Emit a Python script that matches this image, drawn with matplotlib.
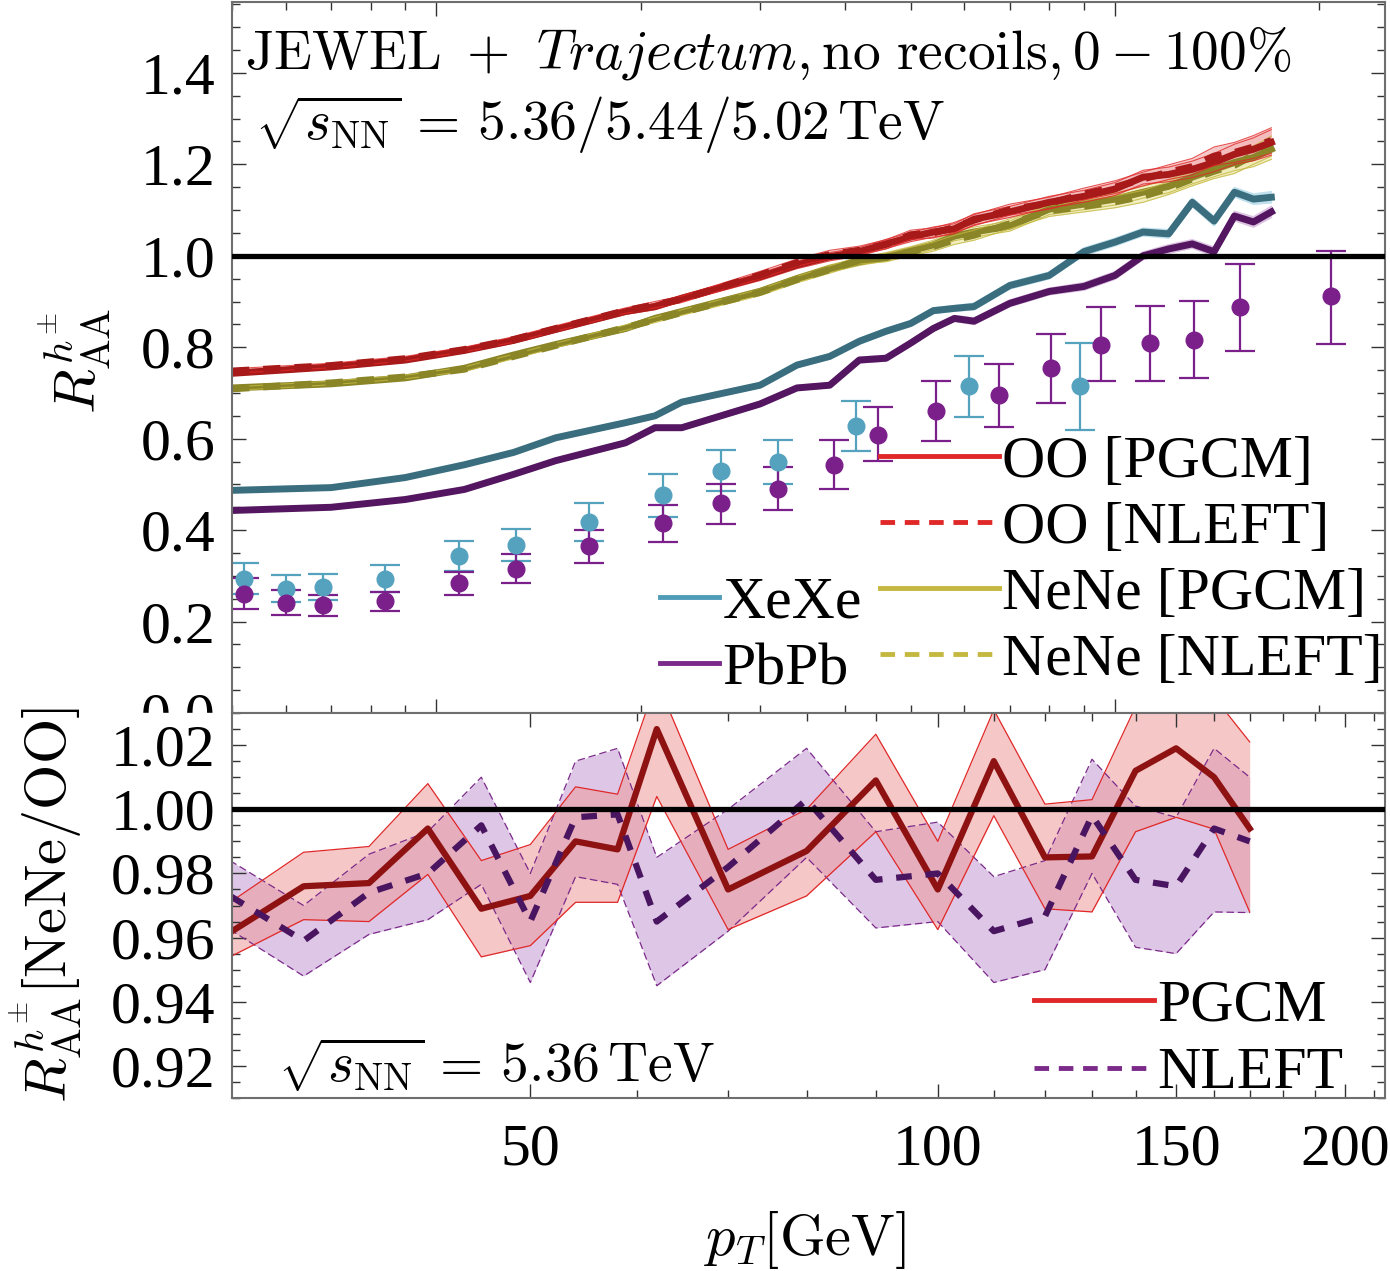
import numpy as np
import matplotlib
matplotlib.use('Agg')
import matplotlib.pyplot as plt
from matplotlib.lines import Line2D
from matplotlib.patches import Rectangle
from matplotlib.ticker import FixedLocator, NullFormatter, LogLocator, MultipleLocator, FormatStrFormatter

plt.rcParams['font.family'] = ['Liberation Serif', 'DejaVu Serif']
plt.rcParams['mathtext.fontset'] = 'cm'

# ---- top panel: JEWEL curves ----
pt_th = [5, 7, 9, 11, 13, 15, 19, 21, 23, 30, 34, 38, 42, 46, 50, 54, 58, 62, 70,
         80, 90, 100, 110, 120, 130, 140, 150, 160, 170]
oo_pgcm = [0.743, 0.757, 0.772, 0.793, 0.815, 0.839, 0.878, 0.889, 0.907, 0.954, 0.980, 0.998, 1.009, 1.026,
           1.041, 1.052, 1.059, 1.080, 1.096, 1.117, 1.130, 1.146, 1.172, 1.178, 1.189, 1.204, 1.222, 1.233, 1.248]
oo_nleft = [0.748, 0.760, 0.775, 0.795, 0.817, 0.841, 0.880, 0.893, 0.905, 0.958, 0.985, 1.003, 1.012, 1.025,
            1.046, 1.050, 1.062, 1.078, 1.101, 1.115, 1.135, 1.150, 1.168, 1.183, 1.195, 1.218, 1.226, 1.238, 1.252]
nene_pgcm = [0.711, 0.720, 0.733, 0.754, 0.783, 0.806, 0.841, 0.863, 0.878, 0.922, 0.950, 0.972, 0.987, 0.998,
             1.011, 1.024, 1.043, 1.052, 1.065, 1.102, 1.113, 1.124, 1.139, 1.152, 1.172, 1.189, 1.204, 1.215, 1.233]
nene_nleft = [0.709, 0.722, 0.735, 0.752, 0.780, 0.804, 0.843, 0.860, 0.876, 0.920, 0.948, 0.970, 0.990, 0.996,
              1.009, 1.020, 1.035, 1.045, 1.070, 1.098, 1.108, 1.118, 1.130, 1.148, 1.168, 1.185, 1.198, 1.220, 1.240]
xexe_th = [0.487, 0.493, 0.515, 0.543, 0.570, 0.602, 0.635, 0.650, 0.680, 0.717, 0.761, 0.780, 0.813, 0.835,
           0.852, 0.880, 0.885, 0.889, 0.935, 0.957, 1.009, 1.030, 1.052, 1.048, 1.117, 1.076, 1.139, 1.124, 1.128]
pbpb_th = [0.443, 0.450, 0.467, 0.489, 0.522, 0.552, 0.591, 0.624, 0.624, 0.676, 0.711, 0.717, 0.772, 0.776,
           0.809, 0.841, 0.863, 0.857, 0.896, 0.922, 0.933, 0.957, 1.000, 1.015, 1.026, 1.009, 1.087, 1.074, 1.096]
# half widths of the uncertainty bands
oo_band = [0.005, 0.005, 0.005, 0.005, 0.006, 0.006, 0.006, 0.007, 0.007, 0.008, 0.008, 0.009, 0.009, 0.010,
           0.010, 0.011, 0.011, 0.012, 0.012, 0.013, 0.013, 0.014, 0.015, 0.016, 0.018, 0.020, 0.022, 0.025, 0.028]
nene_band = [0.004, 0.004, 0.004, 0.005, 0.005, 0.005, 0.006, 0.006, 0.006, 0.007, 0.007, 0.008, 0.008, 0.009,
             0.009, 0.010, 0.010, 0.011, 0.011, 0.012, 0.012, 0.013, 0.013, 0.014, 0.015, 0.016, 0.018, 0.020, 0.022]
aa_band = [0.004, 0.004, 0.004, 0.004, 0.004, 0.004, 0.005, 0.005, 0.005, 0.005, 0.005, 0.005, 0.006, 0.006,
           0.006, 0.006, 0.006, 0.007, 0.007, 0.007, 0.008, 0.008, 0.008, 0.009, 0.009, 0.010, 0.010, 0.011, 0.012]

# ---- top panel: data points ----
pt_xe = [5.2, 6.0, 6.8, 8.4, 10.8, 13.1, 16.8, 21.6, 26.3, 31.9, 41.6, 61.0, 88.8]
xe_val = [0.293, 0.272, 0.276, 0.293, 0.343, 0.367, 0.417, 0.476, 0.530, 0.550, 0.628, 0.715, 0.715]
xe_hi = [0.328, 0.302, 0.304, 0.324, 0.376, 0.402, 0.459, 0.522, 0.576, 0.598, 0.683, 0.780, 0.809]
xe_lo = [0.261, 0.243, 0.248, 0.265, 0.311, 0.333, 0.376, 0.428, 0.485, 0.502, 0.574, 0.648, 0.620]

pt_pb = [5.2, 6.0, 6.8, 8.4, 10.8, 13.1, 16.8, 21.6, 26.3, 31.9, 38.5, 44.8, 54.5, 67.5, 80.5, 95.3,
         112.5, 130.6, 153, 208]
pb_val = [0.261, 0.241, 0.237, 0.246, 0.285, 0.315, 0.365, 0.415, 0.459, 0.491, 0.543, 0.609, 0.661,
          0.696, 0.754, 0.804, 0.809, 0.815, 0.887, 0.911]
pb_hi = [0.296, 0.270, 0.259, 0.265, 0.309, 0.348, 0.400, 0.454, 0.502, 0.539, 0.598, 0.670, 0.726,
         0.763, 0.828, 0.887, 0.891, 0.902, 0.983, 1.011]
pb_lo = [0.228, 0.215, 0.213, 0.224, 0.259, 0.285, 0.328, 0.374, 0.413, 0.443, 0.489, 0.552, 0.596,
         0.626, 0.678, 0.726, 0.726, 0.733, 0.791, 0.807]

# ---- bottom panel: NeNe/OO ratio ----
pt_r = [30, 34, 38, 42, 46, 50, 54, 58, 62, 70, 80, 90, 100, 110, 120, 130, 140, 150, 160, 170]
r_pgcm = [0.9616, 0.976, 0.977, 0.994, 0.969, 0.973, 0.990, 0.9875, 1.025, 0.975, 0.987, 1.009, 0.975,
          1.015, 0.985, 0.9853, 1.012, 1.019, 1.010, 0.994]
r_pgcm_hi = [0.971, 0.9866, 0.9884, 1.008, 0.984, 0.989, 1.007, 1.0047, 1.040, 0.9875, 1.000, 1.0234, 0.990,
             1.031, 1.0016, 1.003, 1.032, 1.040, 1.035, 1.021]
r_pgcm_lo = [0.954, 0.9656, 0.965, 0.9797, 0.954, 0.9575, 0.971, 0.971, 1.004, 0.9625, 0.973, 0.993, 0.9625,
             0.998, 0.969, 0.968, 0.993, 0.9975, 0.9938, 0.968]
r_nleft = [0.973, 0.959, 0.974, 0.980, 0.995, 0.965, 0.9975, 0.9984, 0.965, 0.982, 1.003, 0.978, 0.980,
           0.962, 0.9666, 0.998, 0.978, 0.976, 0.994, 0.990]
r_nleft_hi = [0.984, 0.970, 0.986, 0.993, 1.010, 0.980, 1.015, 1.019, 0.985, 1.000, 1.019, 0.993, 0.996,
              0.979, 0.984, 1.0156, 1.001, 0.9975, 1.019, 1.010]
r_nleft_lo = [0.9625, 0.948, 0.961, 0.9656, 0.9766, 0.946, 0.979, 0.9766, 0.945, 0.962, 0.985, 0.963, 0.965,
              0.946, 0.950, 0.980, 0.957, 0.955, 0.968, 0.9678]

# colores
c_oo, c_oo_leg, c_oo_band = '#a81a1a', '#e02828', '#f4b8b8'
c_ne, c_ne_leg, c_ne_band = '#8a8628', '#c4b840', '#efebb4'
c_xe, c_xe_leg, c_xe_band, c_xe_pt = '#3a6e7f', '#4f9bb8', '#bfe0ec', '#55a2bf'
c_pb, c_pb_leg, c_pb_band, c_pb_pt = '#541660', '#7b2a8a', '#dcc4e2', '#7b1f8b'
spine_c = '#6e6e6e'
fs = 43

fig = plt.figure(figsize=(13.9, 12.71), dpi=100)
ax1 = fig.add_axes([0.1669, 0.4390, 0.8295, 0.5594])
ax2 = fig.add_axes([0.1669, 0.1361, 0.8295, 0.3029])
ax2.set_zorder(1)
# el panel de abajo tapa la etiqueta 0.0 del de arriba
fig.add_artist(Rectangle((0, 0), 1, 0.4390, transform=fig.transFigure, color='white', zorder=0.5))

# ---- top panel ----
x = np.array(pt_th)
for vals, band, col, bcol in [(xexe_th, aa_band, c_xe, c_xe_band), (pbpb_th, aa_band, c_pb, c_pb_band)]:
    v = np.array(vals)
    b = np.array(band)
    ax1.fill_between(x, v - b, v + b, color=bcol, lw=0)
    ax1.plot(x, v + b, color=bcol, lw=1.2)
    ax1.plot(x, v - b, color=bcol, lw=1.2)
    ax1.plot(x, v, color=col, lw=5)

for vals, band, col, bcol, ls in [(nene_pgcm, nene_band, c_ne, c_ne_band, '-'),
                                  (nene_nleft, nene_band, c_ne, c_ne_band, '--'),
                                  (oo_pgcm, oo_band, c_oo, c_oo_band, '-'),
                                  (oo_nleft, oo_band, c_oo, c_oo_band, '--')]:
    v = np.array(vals)
    b = np.array(band)
    ax1.fill_between(x, v - b, v + b, color=bcol, alpha=0.75, lw=0)
    ax1.plot(x, v + b, color=c_oo_leg if col == c_oo else c_ne_leg, lw=0.8, alpha=0.8)
    ax1.plot(x, v - b, color=c_oo_leg if col == c_oo else c_ne_leg, lw=0.8, alpha=0.8)
    if ls == '-':
        ax1.plot(x, v, color=col, lw=5)
    else:
        ax1.plot(x, v, color=col, lw=5, dashes=(2.5, 2.0))

ax1.errorbar(pt_xe, xe_val, yerr=[np.array(xe_val) - np.array(xe_lo), np.array(xe_hi) - np.array(xe_val)],
             fmt='o', color=c_xe_pt, ms=12, elinewidth=1.6, capsize=11, capthick=1.6)
ax1.errorbar(pt_pb, pb_val, yerr=[np.array(pb_val) - np.array(pb_lo), np.array(pb_hi) - np.array(pb_val)],
             fmt='o', color=c_pb_pt, ms=12, elinewidth=1.6, capsize=11, capthick=1.6)

ax1.axhline(1.0, color='black', lw=3.8, zorder=5)
ax1.set_xscale('log')
ax1.set_xlim(5.0, 250)
ax1.set_ylim(0.0, 1.555)
ax1.xaxis.set_major_locator(LogLocator(base=10))
ax1.xaxis.set_minor_locator(LogLocator(base=10, subs=np.arange(2, 10)))
ax1.xaxis.set_major_formatter(NullFormatter())
ax1.xaxis.set_minor_formatter(NullFormatter())
ax1.yaxis.set_major_locator(MultipleLocator(0.2))
ax1.yaxis.set_minor_locator(MultipleLocator(0.05))
ax1.yaxis.set_major_formatter(FormatStrFormatter('%.1f'))

ax1.text(0.011, 0.928, r'$\mathrm{JEWEL}\ +\ \mathit{Trajectum},\mathrm{no\ recoils},0-100\%$',
         transform=ax1.transAxes, fontsize=40, va='center', ha='left')
ax1.text(0.02, 0.827, r'$\sqrt{s_{\rm NN}}\,=\,5.36/5.44/5.02\,\mathrm{TeV}$',
         transform=ax1.transAxes, fontsize=40, va='center', ha='left')

ax1.set_ylabel(r'$R_{\rm AA}^{h^{\pm}}$', fontsize=42, va='center')
ax1.yaxis.set_label_coords(-0.136, 0.496)

h1 = [Line2D([], [], color=c_oo_leg, lw=3.5),
      Line2D([], [], color=c_oo_leg, lw=3.5, dashes=(3, 2)),
      Line2D([], [], color=c_ne_leg, lw=3.5),
      Line2D([], [], color=c_ne_leg, lw=3.5, dashes=(3, 2))]
leg1 = ax1.legend(h1, ['OO [PGCM]', 'OO [NLEFT]', 'NeNe [PGCM]', 'NeNe [NLEFT]'],
                  loc='upper left', bbox_to_anchor=(0.562, 0.391), frameon=False, fontsize=fs,
                  handlelength=2.0, handletextpad=0.05, labelspacing=0.19, borderpad=0, borderaxespad=0)
ax1.add_artist(leg1)
h2 = [Line2D([], [], color=c_xe_leg, lw=3.5), Line2D([], [], color=c_pb_leg, lw=3.5)]
ax1.legend(h2, ['XeXe', 'PbPb'], loc='upper left', bbox_to_anchor=(0.371, 0.193), frameon=False,
           fontsize=fs, handlelength=1.0, handletextpad=0.05, labelspacing=0.2, borderpad=0, borderaxespad=0)

# ---- bottom panel ----
xr = np.array(pt_r)
ax2.fill_between(xr, r_nleft_lo, r_nleft_hi, color='#c9a3d6', alpha=0.6, lw=0)
ax2.plot(xr, r_nleft_hi, color='#7b2a8a', lw=0.9, dashes=(6, 3))
ax2.plot(xr, r_nleft_lo, color='#7b2a8a', lw=0.9, dashes=(6, 3))
ax2.fill_between(xr, r_pgcm_lo, r_pgcm_hi, color='#ee9a9a', alpha=0.55, lw=0)
ax2.plot(xr, r_pgcm_hi, color='#e02828', lw=0.9)
ax2.plot(xr, r_pgcm_lo, color='#e02828', lw=0.9)
ax2.plot(xr, r_pgcm, color='#8e1212', lw=4.5)
ax2.plot(xr, r_nleft, color='#4a1560', lw=4.5, dashes=(2.5, 2.2))
ax2.axhline(1.0, color='black', lw=3.8, zorder=5)

ax2.set_xscale('log')
ax2.set_xlim(30.1, 214)
ax2.set_ylim(0.91, 1.03)
ax2.xaxis.set_major_locator(FixedLocator([50, 100, 150, 200]))
ax2.xaxis.set_minor_locator(FixedLocator([60, 70, 80, 90, 110, 120, 130, 140, 160, 170, 180, 190, 210]))
ax2.xaxis.set_major_formatter(FormatStrFormatter('%d'))
ax2.xaxis.set_minor_formatter(NullFormatter())
ax2.yaxis.set_major_locator(MultipleLocator(0.02))
ax2.yaxis.set_minor_locator(MultipleLocator(0.005))
ax2.yaxis.set_major_formatter(FormatStrFormatter('%.2f'))

ax2.text(0.04, 0.086, r'$\sqrt{s_{\rm NN}}\,=\,5.36\,\mathrm{TeV}$', transform=ax2.transAxes,
         fontsize=40, va='center', ha='left')
h3 = [Line2D([], [], color='#e02828', lw=3.5), Line2D([], [], color='#7b2a8a', lw=3.5, dashes=(3, 2))]
ax2.legend(h3, ['PGCM', 'NLEFT'], loc='upper left', bbox_to_anchor=(0.696, 0.31), frameon=False,
           fontsize=fs, handlelength=2.0, handletextpad=0.05, labelspacing=0.22, borderpad=0, borderaxespad=0)

ax2.set_ylabel(r'$R_{\rm AA}^{h^{\pm}}[\mathrm{NeNe/OO}]$', fontsize=42, va='center')
ax2.yaxis.set_label_coords(-0.162, 0.5)
ax2.set_xlabel(r'$p_T[\mathrm{GeV}]$', fontsize=42, va='center')
ax2.xaxis.set_label_coords(0.497, -0.369)

for ax in (ax1, ax2):
    for s in ax.spines.values():
        s.set_color(spine_c)
        s.set_linewidth(1.5)
    ax.tick_params(which='both', direction='in', top=True, right=True, colors='#333333',
                   labelcolor='black', labelsize=fs, width=1.0)
    ax.tick_params(which='major', length=10, pad=12)
    ax.tick_params(which='minor', length=6)
ax2.tick_params(axis='x', which='major', pad=18)

fig.savefig('out.png', dpi=100, facecolor='white')
